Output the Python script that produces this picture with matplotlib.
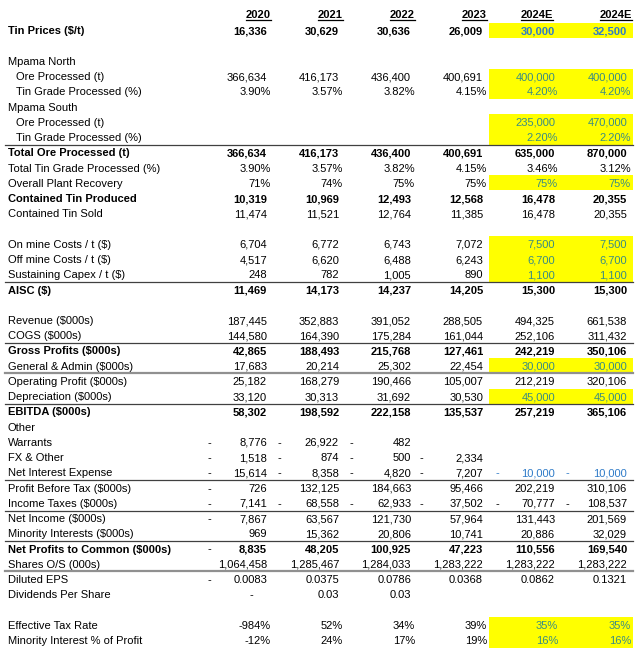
import matplotlib.pyplot as plt

plt.rcParams['font.family'] = ['Liberation Sans', 'DejaVu Sans']
fs = 8

years = ['2020', '2021', '2022', '2023', '2024E', '2024E']

labels = [
    'Tin Prices ($/t)', '',
    'Mpama North', '  Ore Processed (t)', '  Tin Grade Processed (%)',
    'Mpama South', '  Ore Processed (t)', '  Tin Grade Processed (%)',
    'Total Ore Processed (t)', 'Total Tin Grade Processed (%)',
    'Overall Plant Recovery', 'Contained Tin Produced', 'Contained Tin Sold', '',
    'On mine Costs / t ($)', 'Off mine Costs / t ($)', 'Sustaining Capex / t ($)',
    'AISC ($)', '',
    'Revenue ($000s)', 'COGS ($000s)', 'Gross Profits ($000s)',
    'General & Admin ($000s)', 'Operating Profit ($000s)', 'Depreciation ($000s)',
    'EBITDA ($000s)', 'Other', 'Warrants', 'FX & Other', 'Net Interest Expense',
    'Profit Before Tax ($000s)', 'Income Taxes ($000s)', 'Net Income ($000s)',
    'Minority Interests ($000s)', 'Net Profits to Common ($000s)',
    'Shares O/S (000s)', 'Diluted EPS', 'Dividends Per Share', '',
    'Effective Tax Rate', 'Minority Interest % of Profit',
]

bold_rows = ['Tin Prices ($/t)', 'Total Ore Processed (t)', 'Contained Tin Produced',
             'AISC ($)', 'Gross Profits ($000s)', 'EBITDA ($000s)',
             'Net Profits to Common ($000s)']

# "~" prefix = accounting-style negative (dash shown at left of cell)
v2020 = ['16,336', '', '', '366,634', '3.90%', '', '', '', '366,634', '3.90%', '71%',
         '10,319', '11,474', '', '6,704', '4,517', '248', '11,469', '', '187,445',
         '144,580', '42,865', '17,683', '25,182', '33,120', '58,302', '', '~8,776',
         '~1,518', '~15,614', '~726', '~7,141', '~7,867', '969', '~8,835',
         '1,064,458', '~0.0083', '-', '', '-984%', '-12%']
v2021 = ['30,629', '', '', '416,173', '3.57%', '', '', '', '416,173', '3.57%', '74%',
         '10,969', '11,521', '', '6,772', '6,620', '782', '14,173', '', '352,883',
         '164,390', '188,493', '20,214', '168,279', '30,313', '198,592', '', '~26,922',
         '~874', '~8,358', '132,125', '~68,558', '63,567', '15,362', '48,205',
         '1,285,467', '0.0375', '0.03', '', '52%', '24%']
v2022 = ['30,636', '', '', '436,400', '3.82%', '', '', '', '436,400', '3.82%', '75%',
         '12,493', '12,764', '', '6,743', '6,488', '1,005', '14,237', '', '391,052',
         '175,284', '215,768', '25,302', '190,466', '31,692', '222,158', '', '~482',
         '~500', '~4,820', '184,663', '~62,933', '121,730', '20,806', '100,925',
         '1,284,033', '0.0786', '0.03', '', '34%', '17%']
v2023 = ['26,009', '', '', '400,691', '4.15%', '', '', '', '400,691', '4.15%', '75%',
         '12,568', '11,385', '', '7,072', '6,243', '890', '14,205', '', '288,505',
         '161,044', '127,461', '22,454', '105,007', '30,530', '135,537', '', '',
         '~2,334', '~7,207', '95,466', '~37,502', '57,964', '10,741', '47,223',
         '1,283,222', '0.0368', '', '', '39%', '19%']
v2024a = ['30,000', '', '', '400,000', '4.20%', '', '235,000', '2.20%', '635,000', '3.46%',
          '75%', '16,478', '16,478', '', '7,500', '6,700', '1,100', '15,300', '',
          '494,325', '252,106', '242,219', '30,000', '212,219', '45,000', '257,219', '',
          '', '', '~10,000', '202,219', '~70,777', '131,443', '20,886', '110,556',
          '1,283,222', '0.0862', '', '', '35%', '16%']
v2024b = ['32,500', '', '', '400,000', '4.20%', '', '470,000', '2.20%', '870,000', '3.12%',
          '75%', '20,355', '20,355', '', '7,500', '6,700', '1,100', '15,300', '',
          '661,538', '311,432', '350,106', '30,000', '320,106', '45,000', '365,106', '',
          '', '', '~10,000', '310,106', '~108,537', '201,569', '32,029', '169,540',
          '1,283,222', '0.1321', '', '', '35%', '16%']
columns = [v2020, v2021, v2022, v2023, v2024a, v2024b]

# estimate/input rows in the 2024E columns
yellow_rows = ['Tin Prices ($/t)', '  Ore Processed (t)', '  Tin Grade Processed (%)',
               'Overall Plant Recovery', 'On mine Costs / t ($)', 'Off mine Costs / t ($)',
               'Sustaining Capex / t ($)', 'General & Admin ($000s)', 'Depreciation ($000s)',
               'Effective Tax Rate', 'Minority Interest % of Profit']
blue_rows = ['Tin Prices ($/t)', 'Net Interest Expense']
lines_above = ['Total Ore Processed (t)', 'AISC ($)', 'Gross Profits ($000s)',
               'Operating Profit ($000s)', 'EBITDA ($000s)', 'Profit Before Tax ($000s)',
               'Net Income ($000s)', 'Net Profits to Common ($000s)', 'Diluted EPS']
grey_lines = ['Operating Profit ($000s)', 'Diluted EPS']

fig = plt.figure(figsize=(6.4, 6.49), dpi=100)
ax = fig.add_axes([0, 0, 1, 1])
ax.set_xlim(0, 640)
ax.set_ylim(649, 0)
ax.axis('off')

row_h = 15.24
y0 = 15.2
base = 4.0  # baseline offset from row centre
num_right = [267, 339, 411, 483, 555, 627]
pct_right = [271, 343, 415, 487, 558, 631]
head_right = [271, 343, 415, 487, 553, 632]
dash_x = [207, 277, 350, 420, 495, 565]

# header, underlined to the width of the text
renderer = fig.canvas.get_renderer()
for j, yr in enumerate(years):
    t = ax.text(head_right[j], 18.5, yr, ha='right', va='baseline', fontsize=fs,
                fontweight='bold')
    w = t.get_window_extent(renderer).width
    ax.plot([head_right[j] - w, head_right[j]], [20, 20], color='black', lw=0.9)

for i, lab in enumerate(labels):
    y = y0 + row_h * (i + 1)
    bold = 'bold' if lab in bold_rows else 'normal'
    if lab in yellow_rows:
        ax.add_patch(plt.Rectangle((489, y - row_h / 2), 144, row_h,
                                   color='#FFFF00', zorder=0, lw=0))
    if lab in lines_above:
        if lab in grey_lines:
            ax.plot([5, 633], [y - row_h / 2, y - row_h / 2], color='#909090', lw=1.6)
        else:
            ax.plot([5, 633], [y - row_h / 2, y - row_h / 2], color='#404040', lw=0.9)
    x_lab = 8
    txt = lab
    if lab.startswith('  '):
        x_lab = 16
        txt = lab.strip()
    ax.text(x_lab, y + base, txt, ha='left', va='baseline', fontsize=fs, fontweight=bold)
    for j, col in enumerate(columns):
        v = col[i]
        if v == '':
            continue
        color = 'black'
        if j >= 4 and lab in yellow_rows:
            color = '#3A8C84'
        if j >= 4 and lab in blue_rows:
            color = '#2F7BC8'
        if v == '-':
            ax.text(num_right[j] - 14, y + base, '-', ha='right', va='baseline',
                    fontsize=fs, color=color)
            continue
        if v.startswith('~'):
            v = v[1:]
            ax.text(dash_x[j], y + base, '-', ha='left', va='baseline', fontsize=fs,
                    color=color)
        xr = pct_right[j] if v.endswith('%') else num_right[j]
        ax.text(xr, y + base, v, ha='right', va='baseline', fontsize=fs, fontweight=bold,
                color=color)

fig.savefig('out.png', dpi=100, facecolor='white')
